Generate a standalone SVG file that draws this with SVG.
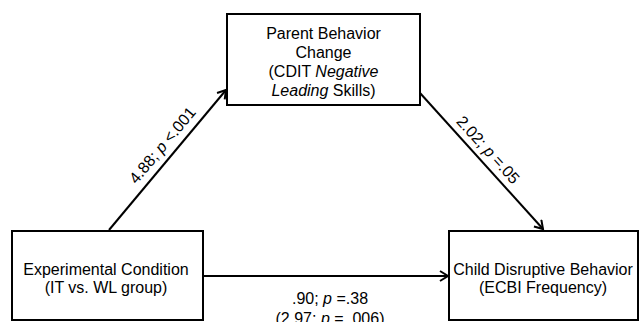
<svg xmlns="http://www.w3.org/2000/svg" width="639" height="322" viewBox="0 0 639 322">
<style>
.box{fill:#fff;stroke:#000;stroke-width:2}
.t{font-family:"Liberation Sans",Arial,sans-serif;font-size:16px;fill:#000;text-anchor:middle}
.c{stroke:#000;stroke-width:2;fill:none}
</style>
<defs>
<marker id="arr" markerUnits="userSpaceOnUse" markerWidth="14" markerHeight="14" refX="10" refY="6" orient="auto">
<path d="M2,1 L10,6 L2,11" fill="none" stroke="#000" stroke-width="2"/>
</marker>
</defs>
<rect width="639" height="322" fill="#fff"/>
<g id="connectors">
<line class="c" x1="109" y1="230" x2="226" y2="90" marker-end="url(#arr)"/>
<line class="c" x1="420" y1="93" x2="543" y2="229" marker-end="url(#arr)"/>
<line class="c" x1="204" y1="276" x2="448" y2="276" marker-end="url(#arr)"/>
<text class="t" transform="translate(172.7,153.9) rotate(-50)" x="0" y="-8">4.88; <tspan font-style="italic">p</tspan> &lt;.001</text>
<text class="t" transform="translate(478.9,158.2) rotate(47.9)" x="0" y="-7">2.02; <tspan font-style="italic">p</tspan> =.05</text>
<text class="t" x="330" y="304">.90; <tspan font-style="italic">p</tspan> =.38</text>
<text class="t" x="330" y="324">(2.97; <tspan font-style="italic">p</tspan> = .006)</text>
</g>
<g id="parent">
<rect class="box" x="227" y="14" width="193" height="91"/>
<text class="t" x="323.5" y="39">Parent Behavior</text>
<text class="t" x="323.5" y="58">Change</text>
<text class="t" x="323.5" y="77">(CDIT <tspan font-style="italic">Negative</tspan></text>
<text class="t" x="323.5" y="96"><tspan font-style="italic">Leading</tspan> Skills)</text>
</g>
<g id="experimental">
<rect class="box" x="12" y="231" width="191" height="89"/>
<text class="t" x="106" y="275">Experimental  Condition</text>
<text class="t" x="106" y="293">(IT vs. WL group)</text>
</g>
<g id="child">
<rect class="box" x="449" y="231" width="189" height="89"/>
<text class="t" x="543" y="275">Child Disruptive Behavior</text>
<text class="t" x="543" y="293">(ECBI Frequency)</text>
</g>
</svg>
